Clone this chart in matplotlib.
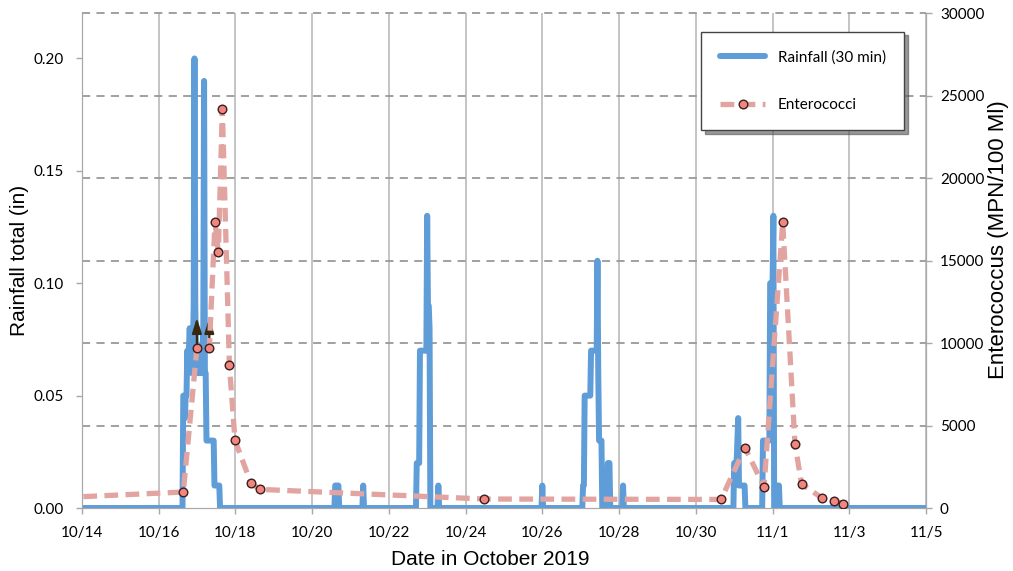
import pandas as pd
import matplotlib
matplotlib.use("Agg")
import matplotlib.pyplot as plt

# rainfall, 30-min totals (in); each run starts at a time and fills consecutive 30-min slots
rain_starts = [
    "2019-10-16 15:30", "2019-10-20 14:30", "2019-10-21 08:00",
    "2019-10-22 17:30", "2019-10-23 07:00", "2019-10-26 00:00",
    "2019-10-27 01:30", "2019-10-27 17:00", "2019-10-28 02:30",
    "2019-10-31 00:00", "2019-10-31 18:00", "2019-11-01 02:30",
]
rain_runs = [
    [0.05, 0.05, 0.04, 0.05, 0.05,
     0.07, 0.06, 0.07, 0.08, 0.07, 0.07, 0.06, 0.07, 0.09,
     0.20,
     0.09, 0.07, 0.06, 0.07, 0.06, 0.07, 0.06, 0.07, 0.06, 0.07, 0.08,
     0.19,
     0.06, 0.06, 0.03, 0.03, 0.03, 0.03, 0.03, 0.03, 0.03, 0.03, 0.03, 0.03,
     0.01, 0.01, 0.01, 0.01, 0.01, 0.01, 0.01],
    [0.01, 0.01, 0.01, 0.01, 0.01],
    [0.01],
    [0.02, 0.02, 0.02, 0.02,
     0.07, 0.07, 0.07, 0.07, 0.07, 0.07, 0.07, 0.07, 0.07,
     0.13, 0.09, 0.09, 0.08],
    [0.01],
    [0.01],
    [0.01, 0.01,
     0.05, 0.05, 0.05, 0.05, 0.05, 0.05, 0.05, 0.05,
     0.07, 0.07, 0.07, 0.07, 0.07, 0.07, 0.07, 0.07,
     0.11, 0.06, 0.03, 0.03, 0.03, 0.03],
    [0.02, 0.02, 0.02],
    [0.01],
    [0.02, 0.02, 0.02, 0.02, 0.03, 0.04,
     0.01, 0.01, 0.01, 0.01, 0.01, 0.01, 0.01, 0.01],
    [0.03, 0.03, 0.03, 0.03, 0.03, 0.03, 0.03, 0.03, 0.03,
     0.10, 0.10, 0.10, 0.10, 0.13],
    [0.01, 0.01, 0.01, 0.01],
]

# enterococci samples (MPN/100 ml); first one lies before the plotted window
ent_times = [
    "2019-10-11 00:00", "2019-10-16 15:30", "2019-10-17 00:00", "2019-10-17 07:45",
    "2019-10-17 11:20", "2019-10-17 13:25", "2019-10-17 15:55", "2019-10-17 20:20",
    "2019-10-17 23:50", "2019-10-18 09:50", "2019-10-18 15:30", "2019-10-24 11:45",
    "2019-10-30 15:45", "2019-10-31 06:45", "2019-10-31 18:40", "2019-11-01 06:20",
    "2019-11-01 14:00", "2019-11-01 18:10", "2019-11-02 06:45", "2019-11-02 14:15",
    "2019-11-02 20:15",
]
ent_values = [365, 970, 9690, 9690, 17330, 15530, 24196, 8660, 4110, 1500, 1130, 546,
              520, 3660, 1290, 17330, 3880, 1450, 620, 443, 265]
ent_over_limit = [False, False, True, True] + [False] * 17

x_ticks = pd.date_range("2019-10-14", "2019-11-05", freq="2D")
rain_ticks = [0.0, 0.05, 0.10, 0.15, 0.20]
ent_ticks = [0, 5000, 10000, 15000, 20000, 25000, 30000]

idx = pd.date_range("2019-10-14", "2019-11-05", freq="30min")
rain = pd.Series(0.0, index=idx)
for start, vals in zip(rain_starts, rain_runs):
    slots = pd.date_range(start, periods=len(vals), freq="30min")
    rain.loc[slots] = vals

ent_t = pd.to_datetime(ent_times)

tick_font = "Lato"
label_font = ["Liberation Sans", "DejaVu Sans"]
grey = "#a8a8a8"

fig = plt.figure(figsize=(10.13, 5.71), dpi=100)
ax = fig.add_axes([0.0807, 0.1103, 0.8335, 0.8661])
ax2 = ax.twinx()

blue, = ax.plot(rain.index, rain.values, color="#5f9dd9", lw=4.3,
                solid_joinstyle="round", solid_capstyle="round", zorder=3,
                label="Rainfall (30 min)")
ax.set_xlim(x_ticks[0], x_ticks[-1])
ax.set_ylim(0, 0.22)
ax2.set_ylim(0, 30000)

# grid: vertical solid on dates, horizontal dashed on the right-axis ticks, both behind rain
ax.set_axisbelow(True)
ax.grid(axis="x", color="#b4b4b4", lw=1.1)
for t in ent_ticks[1:]:
    ax.plot([0, 1], [t, t], transform=ax2.get_yaxis_transform(), color="#999999",
            lw=1.3, ls=(0, (4.5, 3.5)), zorder=1, clip_on=False)

pink, = ax2.plot(ent_t, ent_values, color="#e2a4a0", lw=3.8, ls=(0, (2.6, 1.4)),
                 marker="o", ms=6.2, mfc="#f2857e", mec="#3a1f1f", mew=1.0,
                 zorder=4, label="Enterococci")
for t, v, flag in zip(ent_t, ent_values, ent_over_limit):
    if flag:
        ax2.annotate("", xy=(t, v), xytext=(0, 22), textcoords="offset points",
                     arrowprops=dict(arrowstyle="<|-,head_length=0.9,head_width=0.28",
                                     color="#3a2710", lw=1.6, shrinkA=0, shrinkB=0),
                     zorder=3)

ax.set_xticks(x_ticks)
ax.set_xticklabels([f"{d.month}/{d.day}" for d in x_ticks])
ax.set_yticks(rain_ticks)
ax.set_yticklabels([f"{v:.2f}" for v in rain_ticks])
ax2.set_yticks(ent_ticks)
ax2.set_yticklabels([str(v) for v in ent_ticks])

for a in (ax, ax2):
    a.tick_params(colors=grey, labelcolor="black", length=4, width=1)
    for lab in a.get_xticklabels() + a.get_yticklabels():
        lab.set_fontfamily(tick_font)
        lab.set_fontsize(11)
ax.tick_params(axis="x", pad=9)
ax.tick_params(axis="y", pad=9)
ax2.tick_params(axis="y", pad=6)

for a in (ax, ax2):
    a.spines["top"].set_visible(False)
    for s in ("left", "right", "bottom"):
        a.spines[s].set_color(grey)

ax.set_xlabel("Date in October 2019", fontsize=15, family=label_font)
ax.xaxis.set_label_coords(0.4836, -0.085)
ax.set_ylabel("Rainfall total (in)", fontsize=15, family=label_font, labelpad=3)
ax2.set_ylabel("Enterococcus (MPN/100 Ml)", fontsize=16, family=label_font)
ax2.yaxis.set_label_coords(1.0734, 0.542)

leg = ax2.legend(handles=[blue, pink], loc="upper right", bbox_to_anchor=(0.974, 0.963),
                 prop={"family": tick_font, "size": 11}, frameon=True, fancybox=False,
                 shadow={"ox": 2.5, "oy": -2.5, "color": "#555555", "alpha": 0.6},
                 handlelength=3.0, handletextpad=0.8, labelspacing=2.2,
                 borderpad=1.2, borderaxespad=0, numpoints=1)
leg.get_frame().set_edgecolor("#444444")
leg.get_frame().set_linewidth(1.0)

fig.savefig("out.png", dpi=100)
